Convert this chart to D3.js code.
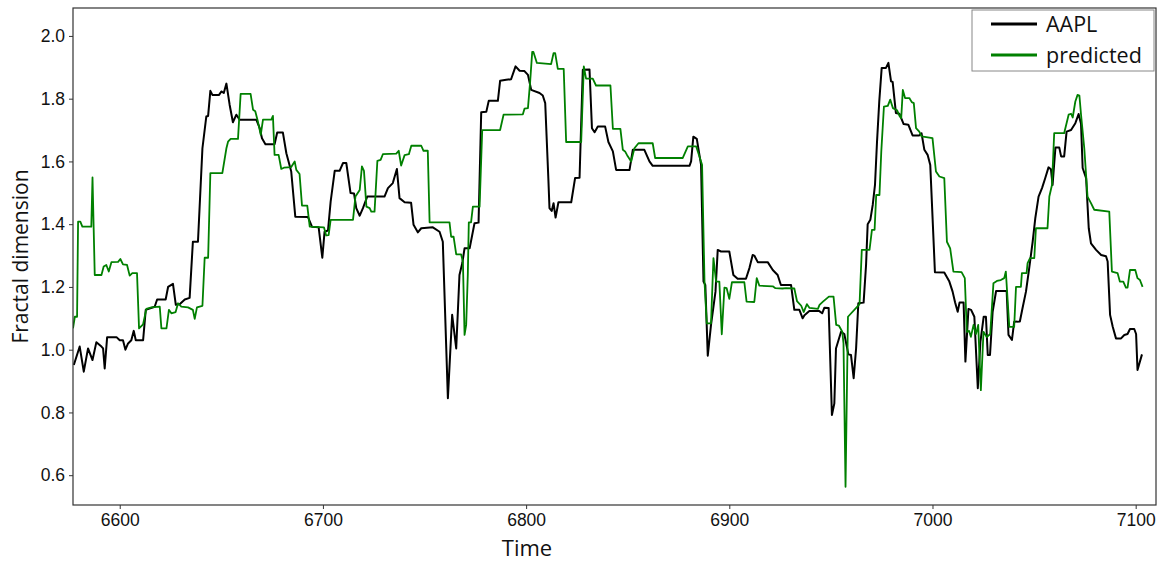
<!DOCTYPE html>
<html>
<head>
<meta charset="utf-8">
<script src="https://cdn.jsdelivr.net/npm/d3@7"></script>
<style>
    body { margin: 0; background: #fff; }
    svg { display: block; font-family: "Open Sans", sans-serif; }
    .tick text { font-size: 17.5px; fill: #111; }
</style>
</head>
<body>
<script>
// AAPL fractal dimension
const aaplTime = [6577.4,6580.3,6582.3,6584.4,6586.6,6588.5,6591.0,6591.8,6592.6,6593.8,6598.4,6600.0,6601.6,6602.8,6604.1,6605.7,6606.9,6607.9,6611.5,6612.8,6617.2,6618.4,6622.6,6623.8,6626.2,6627.6,6629.5,6632.0,6634.4,6636.0,6638.5,6640.7,6642.6,6643.5,6644.6,6645.6,6648.9,6650.0,6651.2,6652.5,6654.1,6655.7,6657.4,6659.0,6667.2,6668.9,6670.0,6671.7,6676.2,6677.5,6680.3,6682.0,6684.4,6686.4,6692.6,6694.6,6697.9,6699.7,6700.8,6702.5,6703.8,6705.8,6708.2,6709.9,6711.5,6713.6,6715.3,6716.4,6718.1,6719.7,6721.8,6730.3,6732.0,6734.4,6736.4,6737.7,6740.2,6743.4,6744.6,6746.7,6748.4,6754.1,6757.4,6759.0,6761.5,6763.6,6765.6,6767.2,6768.6,6769.7,6772.2,6774.6,6776.6,6777.9,6780.4,6781.6,6786.1,6787.2,6790.2,6792.6,6794.8,6796.8,6799.2,6800.9,6802.5,6806.6,6808.2,6809.4,6811.0,6811.5,6812.6,6813.5,6814.5,6815.9,6822.2,6824.1,6826.3,6827.9,6831.2,6832.4,6833.7,6835.3,6838.9,6840.5,6842.7,6844.3,6850.9,6852.5,6858.2,6860.7,6862.3,6880.4,6881.2,6882.3,6884.0,6886.1,6887.3,6888.2,6889.4,6891.0,6893.2,6894.3,6895.9,6900.0,6902.0,6904.1,6908.2,6909.9,6911.5,6912.3,6914.0,6918.9,6921.4,6923.8,6925.4,6930.4,6932.0,6934.5,6936.1,6937.0,6939.4,6944.3,6945.7,6946.8,6948.9,6950.5,6951.7,6952.5,6955.0,6956.6,6958.6,6959.9,6961.2,6962.4,6963.5,6966.1,6967.3,6968.1,6969.4,6970.6,6971.7,6972.7,6973.8,6975.0,6977.1,6978.3,6979.6,6980.4,6982.0,6983.7,6985.8,6988.1,6990.2,6993.5,6994.6,6996.0,6997.6,6998.9,7001.2,7005.8,7008.3,7009.9,7011.1,7012.4,7013.3,7015.3,7016.2,7017.7,7019.0,7020.6,7022.3,7023.6,7025.2,7026.3,7027.2,7028.3,7029.6,7031.3,7036.5,7037.4,7039.1,7040.2,7043.0,7044.3,7046.0,7047.6,7049.3,7050.6,7052.2,7053.9,7055.5,7057.1,7058.3,7059.1,7060.5,7062.4,7063.3,7064.8,7066.0,7068.2,7070.3,7071.9,7073.1,7073.9,7075.6,7076.9,7078.0,7080.5,7083.0,7085.4,7086.2,7087.4,7088.7,7090.3,7092.8,7094.4,7096.0,7097.2,7099.3,7100.2,7100.9,7103.1];
const aaplValue = [0.951,1.010,0.930,1.004,0.967,1.024,1.010,1.004,0.940,1.040,1.040,1.030,1.030,1.000,1.020,1.030,1.060,1.030,1.030,1.127,1.137,1.160,1.160,1.200,1.210,1.143,1.145,1.160,1.165,1.344,1.344,1.642,1.743,1.745,1.825,1.812,1.812,1.823,1.818,1.848,1.780,1.725,1.749,1.733,1.733,1.706,1.674,1.655,1.655,1.692,1.692,1.626,1.568,1.424,1.423,1.392,1.390,1.293,1.376,1.380,1.472,1.570,1.570,1.595,1.595,1.499,1.498,1.451,1.427,1.451,1.488,1.488,1.515,1.531,1.576,1.483,1.470,1.468,1.398,1.374,1.387,1.390,1.376,1.344,0.845,1.111,1.004,1.238,1.276,1.323,1.323,1.403,1.405,1.757,1.758,1.793,1.793,1.857,1.860,1.862,1.903,1.889,1.888,1.876,1.828,1.818,1.810,1.786,1.536,1.451,1.442,1.467,1.421,1.470,1.470,1.547,1.548,1.892,1.893,1.706,1.693,1.711,1.711,1.662,1.632,1.573,1.573,1.637,1.637,1.600,1.586,1.586,1.600,1.679,1.672,1.589,1.217,1.206,0.981,1.079,1.185,1.318,1.313,1.313,1.238,1.226,1.226,1.260,1.302,1.300,1.279,1.279,1.254,1.238,1.206,1.206,1.127,1.127,1.100,1.110,1.123,1.123,1.116,1.134,1.133,0.792,0.829,1.004,1.057,1.050,0.985,0.983,0.909,1.004,1.148,1.150,1.270,1.400,1.414,1.462,1.525,1.663,1.791,1.898,1.898,1.914,1.855,1.853,1.754,1.752,1.719,1.717,1.683,1.683,1.690,1.637,1.621,1.589,1.247,1.246,1.217,1.185,1.151,1.121,1.150,1.150,0.962,1.130,1.127,1.105,0.877,1.026,1.105,1.105,0.983,0.983,1.121,1.187,1.187,1.047,1.031,1.089,1.090,1.132,1.185,1.260,1.344,1.419,1.488,1.515,1.547,1.581,1.575,1.525,1.644,1.644,1.616,1.616,1.695,1.700,1.722,1.751,1.720,1.579,1.547,1.387,1.339,1.318,1.302,1.298,1.281,1.111,1.073,1.036,1.036,1.047,1.050,1.066,1.066,1.050,0.935,0.985];

// predicted fractal dimension
const predTime = [6577.0,6577.9,6579.0,6579.5,6580.6,6581.6,6586.0,6586.6,6587.7,6591.0,6592.1,6593.4,6594.6,6595.9,6599.2,6600.3,6601.6,6603.6,6604.9,6606.2,6608.5,6609.5,6611.5,6613.1,6615.6,6619.7,6620.5,6623.0,6624.2,6625.4,6627.5,6628.7,6630.3,6633.6,6636.0,6636.9,6638.0,6640.7,6641.8,6643.5,6644.6,6650.5,6652.5,6653.3,6654.6,6658.2,6659.5,6664.4,6665.6,6666.7,6668.0,6669.4,6670.5,6674.6,6675.4,6676.2,6678.2,6679.5,6680.8,6684.4,6686.1,6686.9,6688.5,6689.7,6692.3,6693.5,6700.5,6701.6,6702.8,6703.8,6714.8,6716.0,6718.1,6719.2,6720.2,6721.4,6723.0,6723.8,6725.4,6726.8,6728.4,6729.5,6736.1,6737.3,6738.5,6740.2,6742.3,6743.5,6748.4,6749.5,6751.6,6752.5,6762.3,6763.1,6764.3,6765.6,6768.0,6768.9,6769.7,6770.5,6771.3,6771.8,6772.9,6773.8,6777.1,6778.4,6787.2,6788.9,6798.4,6799.2,6800.9,6802.0,6803.0,6803.6,6805.3,6812.3,6813.5,6814.3,6815.6,6818.5,6819.7,6827.1,6828.4,6829.5,6832.8,6834.4,6841.5,6842.7,6846.4,6847.6,6848.7,6849.7,6851.7,6853.3,6855.3,6862.3,6863.5,6877.1,6879.6,6883.7,6885.3,6886.6,6887.8,6888.9,6891.0,6892.2,6893.5,6895.1,6896.3,6897.6,6898.7,6900.0,6901.3,6907.4,6908.5,6912.3,6913.5,6914.8,6921.4,6922.7,6926.2,6927.9,6932.0,6933.3,6935.4,6936.6,6938.2,6939.5,6943.6,6944.4,6946.1,6947.7,6949.0,6951.3,6952.6,6953.9,6955.6,6956.2,6957.2,6958.4,6963.0,6964.1,6965.2,6969.0,6970.2,6971.5,6972.3,6973.9,6974.8,6976.1,6978.0,6979.2,6980.5,6982.6,6983.7,6984.6,6985.4,6986.5,6988.6,6989.8,6990.8,6991.9,6993.5,6994.6,7000.0,7001.7,7003.4,7005.8,7007.1,7008.7,7010.3,7014.3,7015.9,7016.9,7018.0,7018.9,7020.2,7021.4,7022.5,7023.8,7025.1,7026.7,7028.4,7030.0,7031.7,7033.6,7035.3,7036.1,7037.8,7040.2,7041.1,7043.5,7044.0,7046.3,7046.8,7048.0,7050.1,7050.9,7056.6,7057.5,7058.8,7059.9,7064.8,7067.0,7068.2,7069.0,7070.3,7071.4,7072.3,7073.1,7074.7,7076.3,7078.0,7079.6,7087.0,7088.3,7091.1,7092.2,7093.9,7095.2,7096.0,7097.2,7099.8,7100.9,7102.1,7103.4];
const predValue = [1.068,1.105,1.105,1.408,1.408,1.392,1.392,1.549,1.238,1.238,1.265,1.270,1.249,1.279,1.280,1.289,1.272,1.270,1.236,1.244,1.244,1.068,1.081,1.130,1.135,1.137,1.068,1.068,1.127,1.116,1.120,1.148,1.137,1.135,1.127,1.098,1.135,1.140,1.293,1.293,1.563,1.563,1.642,1.663,1.672,1.672,1.815,1.815,1.765,1.760,1.727,1.685,1.733,1.733,1.745,1.621,1.621,1.576,1.580,1.582,1.600,1.573,1.560,1.459,1.459,1.392,1.390,1.364,1.365,1.414,1.414,1.488,1.509,1.584,1.570,1.456,1.451,1.440,1.440,1.602,1.605,1.623,1.625,1.634,1.587,1.620,1.623,1.650,1.650,1.634,1.634,1.406,1.406,1.360,1.360,1.304,1.304,1.280,1.047,1.079,1.238,1.406,1.406,1.456,1.456,1.700,1.700,1.749,1.750,1.768,1.770,1.855,1.949,1.949,1.914,1.910,1.945,1.945,1.895,1.895,1.662,1.662,1.903,1.864,1.864,1.842,1.842,1.704,1.704,1.637,1.632,1.620,1.600,1.642,1.658,1.658,1.611,1.611,1.648,1.648,1.616,1.589,1.217,1.084,1.084,1.292,1.217,1.217,1.049,1.198,1.196,1.162,1.215,1.215,1.153,1.152,1.228,1.204,1.202,1.196,1.195,1.196,1.195,1.155,1.140,1.120,1.145,1.133,1.130,1.143,1.153,1.162,1.169,1.169,1.079,1.077,1.057,1.020,0.563,1.105,1.137,1.145,1.318,1.318,1.382,1.382,1.493,1.493,1.632,1.775,1.777,1.797,1.770,1.763,1.746,1.738,1.828,1.802,1.802,1.789,1.786,1.706,1.695,1.680,1.674,1.568,1.552,1.547,1.344,1.323,1.249,1.247,1.228,1.057,1.060,1.041,1.079,1.050,1.079,0.871,1.057,1.040,1.050,1.212,1.219,1.222,1.228,1.249,1.073,1.073,1.200,1.200,1.244,1.244,1.276,1.292,1.292,1.387,1.387,1.488,1.525,1.690,1.690,1.749,1.752,1.740,1.791,1.812,1.810,1.749,1.642,1.488,1.467,1.446,1.440,1.249,1.244,1.217,1.217,1.198,1.198,1.254,1.254,1.228,1.222,1.200];

const xTicks = [6600, 6700, 6800, 6900, 7000, 7100];
const yTicks = [0.6, 0.8, 1.0, 1.2, 1.4, 1.6, 1.8, 2.0];
const seriesNames = ["AAPL", "predicted"];
const seriesColors = ["#000000", "#008000"];

const width = 1164, height = 563;
const margin = {top: 8, right: 8, bottom: 58, left: 73};

const svg = d3.select("body")
    .append("svg")
    .attr("width", width)
    .attr("height", height);

const x = d3.scaleLinear()
    .domain([6577, 7110])
    .range([margin.left, width - margin.right]);

const y = d3.scaleLinear()
    .domain([0.505, 2.089])
    .range([height - margin.bottom, margin.top]);

const series = [
    d3.zip(aaplTime, aaplValue),
    d3.zip(predTime, predValue)
];

const line = d3.line()
    .x(function(d) { return x(d[0]); })
    .y(function(d) { return y(d[1]); });

svg.append("defs").append("clipPath")
    .attr("id", "plot-clip")
    .append("rect")
    .attr("x", margin.left)
    .attr("y", margin.top)
    .attr("width", width - margin.left - margin.right)
    .attr("height", height - margin.top - margin.bottom);

svg.append("g")
    .attr("clip-path", "url(#plot-clip)")
    .selectAll("path")
    .data(series)
    .enter()
    .append("path")
    .attr("d", line)
    .attr("fill", "none")
    .attr("stroke", function(d, i) { return seriesColors[i]; })
    .attr("stroke-width", function(d, i) { return i === 0 ? 2 : 1.8; })
    .attr("stroke-linejoin", "round");

/* ------- AXES -------*/
const xAxis = svg.append("g")
    .attr("transform", "translate(0," + (height - margin.bottom) + ")")
    .call(d3.axisBottom(x).tickValues(xTicks).tickFormat(d3.format("d")).tickSize(4).tickPadding(5));

const yAxis = svg.append("g")
    .attr("transform", "translate(" + margin.left + ",0)")
    .call(d3.axisLeft(y).tickValues(yTicks).tickFormat(d3.format(".1f")).tickSize(4).tickPadding(4));

xAxis.select(".domain").remove();
yAxis.select(".domain").remove();
svg.selectAll(".tick line").attr("stroke", "#333");

svg.append("rect")
    .attr("x", margin.left)
    .attr("y", margin.top)
    .attr("width", width - margin.left - margin.right)
    .attr("height", height - margin.top - margin.bottom)
    .attr("fill", "none")
    .attr("stroke", "#333")
    .attr("stroke-width", 1.2);

svg.append("text")
    .attr("x", 527)
    .attr("y", 556)
    .attr("text-anchor", "middle")
    .style("font-size", "22px")
    .attr("fill", "#111")
    .text("Time");

svg.append("text")
    .attr("transform", "translate(28," + ((margin.top + height - margin.bottom) / 2) + ") rotate(-90)")
    .attr("text-anchor", "middle")
    .style("font-size", "21px")
    .attr("fill", "#111")
    .text("Fractal dimension");

/* ------- LEGEND -------*/
const legend = svg.append("g")
    .attr("transform", "translate(972,10)");

legend.append("rect")
    .attr("width", 182)
    .attr("height", 61)
    .attr("fill", "#fff")
    .attr("stroke", "#888")
    .attr("stroke-width", 1);

const legendItem = legend.selectAll(".legend-item")
    .data(seriesNames)
    .enter()
    .append("g")
    .attr("class", "legend-item")
    .attr("transform", function(d, i) { return "translate(0," + (14 + i * 31) + ")"; });

legendItem.append("line")
    .attr("x1", 19)
    .attr("x2", 65)
    .attr("stroke", function(d, i) { return seriesColors[i]; })
    .attr("stroke-width", 3);

legendItem.append("text")
    .attr("x", 74)
    .attr("dy", "0.35em")
    .style("font-size", "21.5px")
    .attr("fill", "#111")
    .text(function(d) { return d; });
</script>
</body>
</html>
